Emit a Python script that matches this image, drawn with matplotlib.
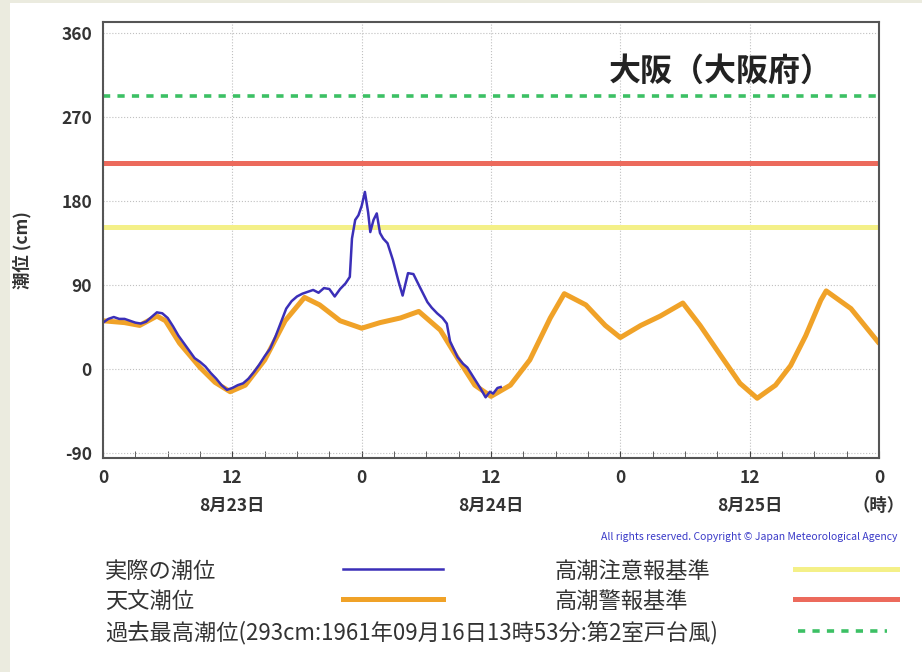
import numpy as np
import matplotlib
matplotlib.use("Agg")
import matplotlib.pyplot as plt
from matplotlib.lines import Line2D
from matplotlib.patches import Rectangle
from matplotlib.ticker import MultipleLocator

plt.rcParams['font.family'] = ['Noto Sans CJK JP', 'DejaVu Sans']

# 天文潮位 (hours from 8/23 0時, cm)
astro_h = [0, 2, 3.4, 5, 5.8, 7.1, 9, 10.4, 11.8, 13.2, 15, 16.9, 18.7, 20.1, 22, 24,
           25.7, 27.6, 29.3, 31.3, 33, 34.5, 36, 37.8, 39.6, 41.5, 42.8, 44.8, 46.6, 48,
           49.9, 51.7, 53.8, 55.4, 57.3, 59.1, 60.7, 62.4, 63.8, 65.2, 66.6, 67.1, 69.4, 72]
astro_v = [52, 50, 47, 57, 52, 28, 2, -14, -24, -17, 10, 52, 77, 69, 52, 44,
           50, 55, 62, 42, 10, -17, -29, -17, 10, 55, 81, 69, 47, 34,
           47, 57, 71, 47, 15, -15, -31, -17, 4, 36, 74, 84, 65, 28]

# 実際の潮位
obs_h = [0, 0.5, 1, 1.5, 2, 2.5, 3, 3.5, 4, 4.5, 5, 5.5, 6, 6.5, 7, 7.5, 8, 8.5, 9, 9.5,
         10, 10.5, 11, 11.5, 12, 12.5, 13, 13.5, 14, 14.5, 15, 15.5, 16, 16.5, 17, 17.5,
         18, 18.5, 19, 19.5, 20, 20.5, 21, 21.5, 22, 22.5, 22.9, 23.1, 23.4, 23.7, 24,
         24.3, 24.6, 24.8, 25.1, 25.4, 25.7, 26, 26.4, 26.9, 27.4, 27.8, 28.3, 28.8, 29.4,
         30.1, 30.5, 31, 31.5, 31.9, 32.2, 32.9, 33.4, 33.8, 34.4, 35, 35.5, 35.9, 36.2,
         36.6, 36.9]
obs_v = [50, 54, 56, 54, 54, 52, 50, 49, 51, 56, 61, 60, 55, 46, 36, 28, 20, 12, 8, 3,
         -4, -10, -17, -22, -20, -17, -15, -10, -3, 5, 14, 22, 35, 50, 65, 73,
         78, 81, 83, 85, 82, 87, 86, 78, 86, 92, 99, 140, 160, 165, 175,
         190, 168, 147, 160, 167, 146, 140, 135, 117, 95, 79, 103, 102, 88,
         72, 66, 60, 55, 49, 30, 13, 6, 2, -9, -20, -30, -24, -26,
         -20, -19]

# 基準線
record_level = 293
warning_level = 221
advisory_level = 152

xticks = [0, 12, 24, 36, 48, 60, 72]
xtick_labels = ['0', '12', '0', '12', '0', '12', '0']
yticks = [-90, 0, 90, 180, 270, 360]
ytick_labels = ['-90', '0', '90', '180', '270', '360']
date_pos = [12, 36, 60]
date_labels = ['8月23日', '8月24日', '8月25日']

c_obs = '#3b2fb8'
c_astro = '#f0a228'
c_adv = '#f4f088'
c_warn = '#ec6a5c'
c_rec = '#3cc064'

fig = plt.figure(figsize=(9.22, 6.72), dpi=100, facecolor='#ebebdf')
fig.add_artist(Rectangle((10 / 922, 0), 1, 1 - 3 / 672, transform=fig.transFigure,
                         facecolor='white', edgecolor='none', zorder=-10))
ax = fig.add_axes([103 / 922, 1 - 458 / 672, 776 / 922, 436 / 672])

ax.axhline(record_level, color=c_rec, lw=2.6, linestyle=(0, (2, 2)))
ax.axhline(warning_level, color=c_warn, lw=3.6)
ax.axhline(advisory_level, color=c_adv, lw=3.6)
ax.plot(astro_h, astro_v, color=c_astro, lw=3.6, solid_capstyle='round')
ax.plot(obs_h, obs_v, color=c_obs, lw=1.8)

ax.set_xlim(0, 72)
ax.set_ylim(-95, 372)
ax.set_xticks(xticks)
ax.set_xticklabels(xtick_labels)
ax.xaxis.set_minor_locator(MultipleLocator(3))
ax.set_yticks(yticks)
ax.set_yticklabels(ytick_labels)
ax.grid(True, which='major', color='#c0c0c0', lw=0.8, linestyle=':')
for lab in ax.get_xticklabels() + ax.get_yticklabels():
    lab.set_fontweight('bold')
    lab.set_fontsize(12.5)
    lab.set_color('#333333')
ax.tick_params(axis='x', which='both', direction='in', length=5, color='#444444', pad=8)
ax.tick_params(axis='y', length=0, pad=8)
for sp in ax.spines.values():
    sp.set_color('#555555')
    sp.set_linewidth(1.5)

for x, t in zip(date_pos, date_labels):
    ax.text(x, -0.11, t, transform=ax.get_xaxis_transform(), ha='center', va='center',
            fontsize=12.5, fontweight='bold', color='#333333')
ax.text(72, -0.11, '（時）', transform=ax.get_xaxis_transform(), ha='center', va='center',
        fontsize=12.5, fontweight='bold', color='#333333')

ax.text(0.94, 0.885, '大阪（大阪府）', transform=ax.transAxes, ha='right', va='center',
        fontsize=23, fontweight='bold', color='#222222')
fig.text(22 / 922, 1 - 250 / 672, '潮位 (cm)', rotation=90, ha='center', va='center',
         fontsize=12.5, fontweight='bold', color='#333333')

fig.text(897 / 922, 1 - 537 / 672,
         'All rights reserved. Copyright © Japan Meteorological Agency',
         ha='right', va='center', fontsize=7.5, color='#3a3ac8')

# 凡例
leg_rows = [
    ('実際の潮位', 105, 571, (343, 443), dict(color=c_obs, lw=1.8)),
    ('天文潮位', 105, 601, (343, 443), dict(color=c_astro, lw=3.6)),
    ('過去最高潮位(293cm:1961年09月16日13時53分:第2室戸台風)', 105, 633, (798, 887),
     dict(color=c_rec, lw=2.6, linestyle=(0, (2, 2)))),
    ('高潮注意報基準', 555, 571, (795, 897), dict(color=c_adv, lw=3.6)),
    ('高潮警報基準', 555, 601, (795, 897), dict(color=c_warn, lw=3.6)),
]
for txt, tx, ty, (x1, x2), st in leg_rows:
    fig.text(tx / 922, 1 - ty / 672, txt, ha='left', va='center', fontsize=16,
             color='#333333')
    fig.add_artist(Line2D([x1 / 922, x2 / 922], [1 - (ty - 2) / 672, 1 - (ty - 2) / 672],
                          transform=fig.transFigure, **st))

fig.savefig('out.png', dpi=100, facecolor=fig.get_facecolor())
